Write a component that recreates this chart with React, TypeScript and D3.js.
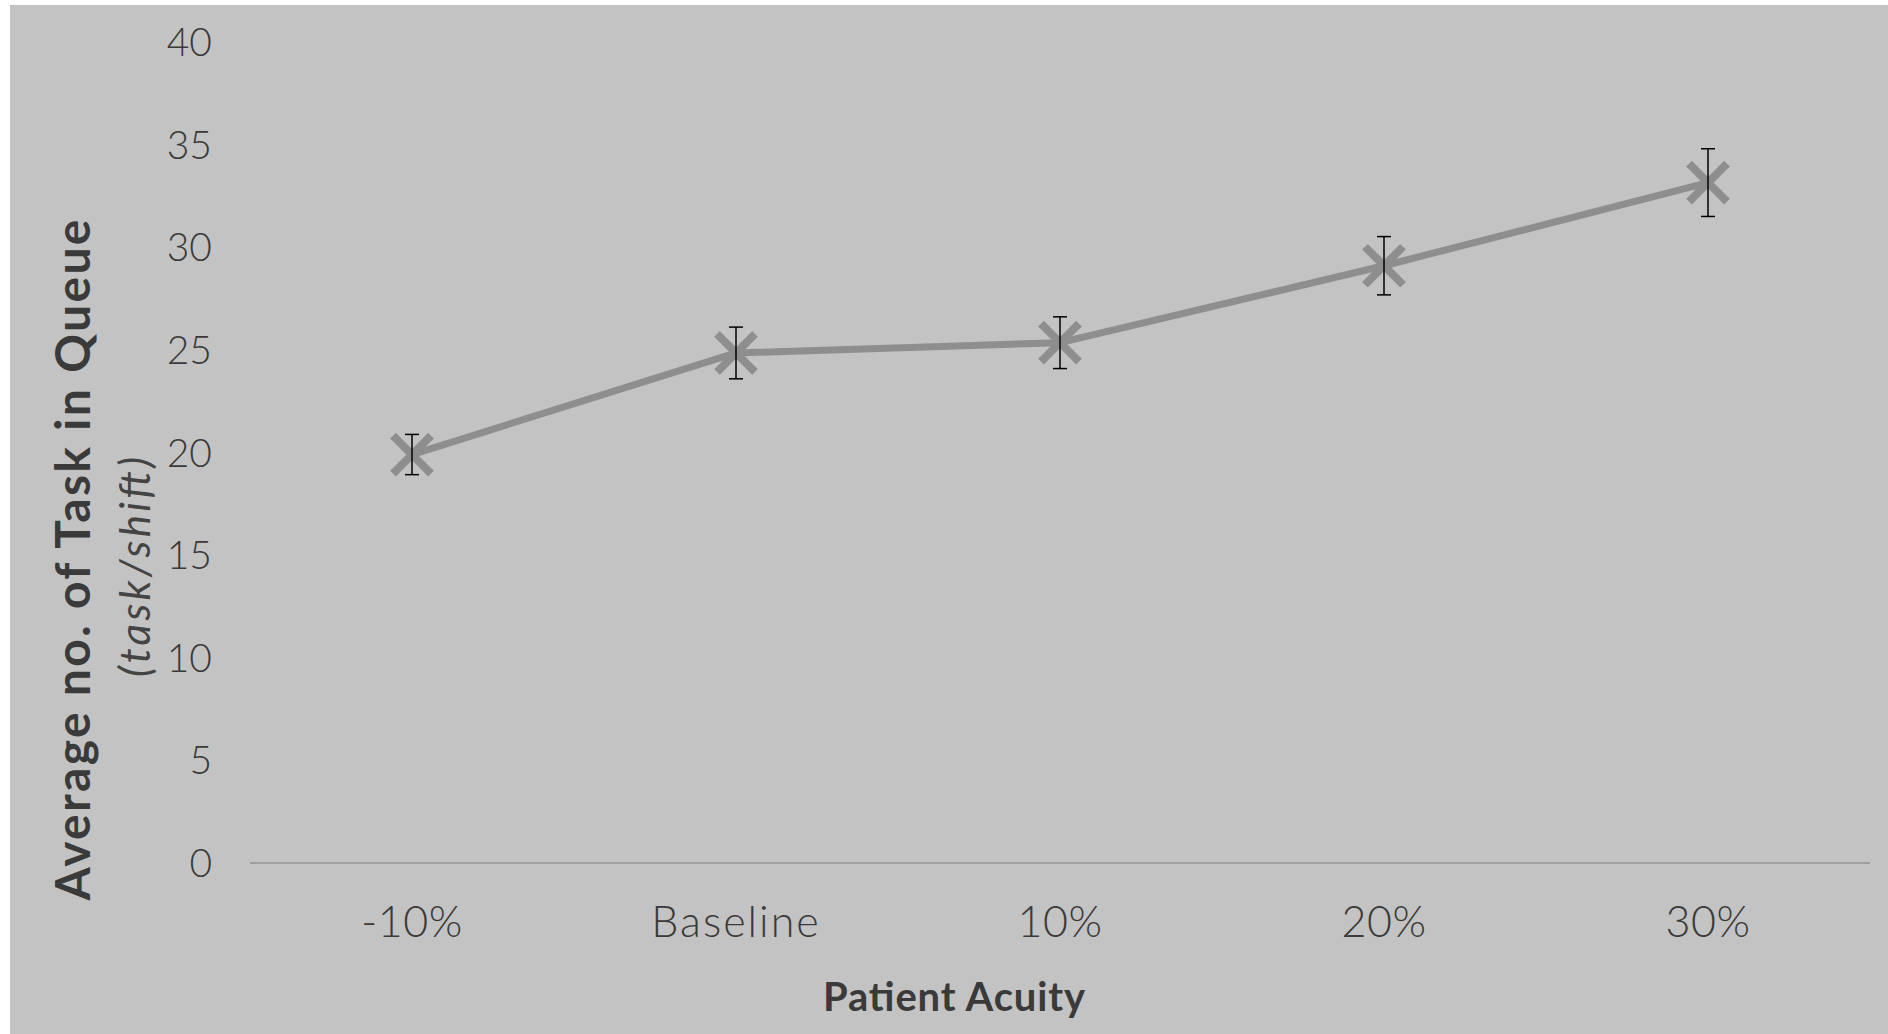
import React from "react";
import * as d3 from "d3";

const categories: string[] = ["-10%", "Baseline", "10%", "20%", "30%"];
const values: number[] = [19.9, 24.85, 25.35, 29.1, 33.15];
const errors: number[] = [0.98, 1.26, 1.26, 1.42, 1.65];
const yTicks: number[] = [0, 5, 10, 15, 20, 25, 30, 35, 40];

const W = 1888;
const H = 1034;

export default function App() {
  const x = d3.scaleBand<string>().domain(categories).range([250, 1870]).padding(0);
  const y = d3.scaleLinear().domain([0, 40]).range([863, 42]);
  const cx = (c: string) => (x(c) as number) + x.bandwidth() / 2;
  const pts: [number, number][] = categories.map((c, i) => [cx(c), y(values[i])]);
  const line = d3.line<[number, number]>().x((d) => d[0]).y((d) => d[1]);
  const font = "Lato, 'Open Sans', sans-serif";
  const textColor = "#3a3a3a";
  const markColor = "#8e8e8e";
  const m = 19;
  return (
    <svg width={W} height={H} style={{ position: "absolute", left: 0, top: 0, display: "block" }}>
      <rect x={0} y={0} width={W} height={H} fill="#ffffff" />
      <rect x={10} y={5} width={W - 10} height={H - 5} fill="#c3c3c3" />
      {/* y tick labels */}
      {yTicks.map((t) => (
        <text key={t} x={212} y={y(t)} dy="0.36em" textAnchor="end" fontFamily={font} fontWeight={300} fontSize={39} fill={textColor}>
          {t}
        </text>
      ))}
      {/* x axis line */}
      <line x1={250} x2={1870} y1={y(0)} y2={y(0)} stroke="#a0a0a0" strokeWidth={2} />
      {/* x tick labels */}
      {categories.map((c) => (
        <text key={c} x={cx(c)} y={937} textAnchor="middle" fontFamily={font} fontWeight={300} fontSize={43} fill={textColor} letterSpacing={c === "Baseline" ? 2 : 0.5}>
          {c}
        </text>
      ))}
      {/* line */}
      <path d={line(pts) || ""} fill="none" stroke={markColor} strokeWidth={7} strokeLinejoin="round" />
      {/* markers */}
      {pts.map(([px, py], i) => (
        <g key={i} stroke={markColor} strokeWidth={8}>
          <line x1={px - m} y1={py - m} x2={px + m} y2={py + m} />
          <line x1={px - m} y1={py + m} x2={px + m} y2={py - m} />
        </g>
      ))}
      {/* error bars */}
      {categories.map((c, i) => {
        const px = cx(c);
        const top = y(values[i] + errors[i]);
        const bot = y(values[i] - errors[i]);
        return (
          <g key={c} stroke="#000000" strokeWidth={1.5}>
            <line x1={px} x2={px} y1={top} y2={bot} />
            <line x1={px - 7} x2={px + 7} y1={top} y2={top} />
            <line x1={px - 7} x2={px + 7} y1={bot} y2={bot} />
          </g>
        );
      })}
      {/* y axis title */}
      <g transform="translate(90,560) rotate(-90)">
        <text x={0} y={0} textAnchor="middle" fontFamily={font} fontWeight={700} fontSize={48} fill={textColor} textLength={681} lengthAdjust="spacing">
          Average no. of Task in Queue
        </text>
      </g>
      <g transform="translate(150,567) rotate(-90)">
        <text x={0} y={0} textAnchor="middle" fontFamily={font} fontStyle="italic" fontWeight={400} fontSize={42} fill="#444444" textLength={220} lengthAdjust="spacing">
          (task/shift)
        </text>
      </g>
      {/* x axis title */}
      <text x={954} y={1011} textAnchor="middle" fontFamily={font} fontWeight={700} fontSize={40} fill={textColor} textLength={262} lengthAdjust="spacing">
        Patient Acuity
      </text>
    </svg>
  );
}
